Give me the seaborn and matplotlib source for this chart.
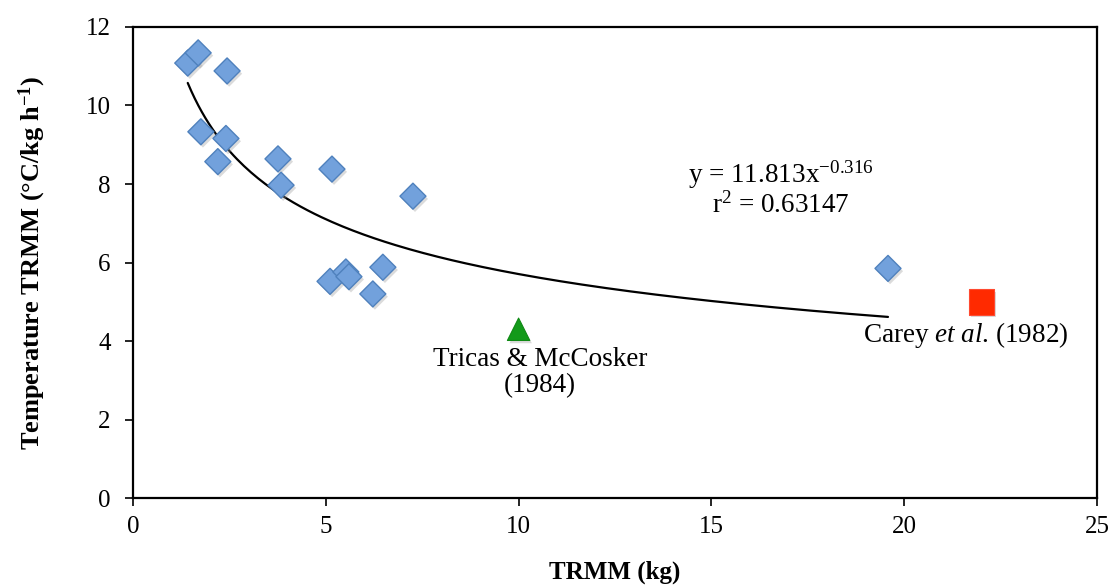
import matplotlib
matplotlib.use("Agg")
import matplotlib.pyplot as plt
import matplotlib.patheffects as pe
import seaborn as sns
import numpy as np
import pandas as pd

# data
trmm_kg = [1.42, 1.69, 2.44, 1.76, 2.41, 2.20, 3.76, 3.84, 5.16, 7.26,
           5.11, 5.52, 5.60, 6.48, 6.22, 19.58]
temp_rate = [11.08, 11.34, 10.88, 9.33, 9.16, 8.57, 8.64, 7.97, 8.38, 7.69,
             5.52, 5.76, 5.64, 5.88, 5.20, 5.85]

tricas = (10.0, 4.3)
carey = (22.0, 5.0)

fit_a = 11.813
fit_b = -0.316
fit_r2 = 0.63147

sns.set_style("white")
plt.rcParams["font.family"] = ["Liberation Serif", "DejaVu Serif"]
plt.rcParams["text.color"] = "black"
plt.rcParams["axes.labelcolor"] = "black"
plt.rcParams["mathtext.fontset"] = "custom"
plt.rcParams["mathtext.rm"] = "Liberation Serif"
plt.rcParams["mathtext.it"] = "Liberation Serif:italic"
plt.rcParams["mathtext.bf"] = "Liberation Serif:bold"

fig = plt.figure(figsize=(11.12, 5.86), dpi=100)
ax = fig.add_axes([0.1196, 0.150, 0.8669, 0.804])

df = pd.DataFrame({"x": trmm_kg, "y": temp_rate})

shadow = [pe.SimplePatchShadow(offset=(1.5, -2), shadow_rgbFace="#999999", alpha=0.35),
          pe.Normal()]

# power fit curve across the data range
xs = np.linspace(min(trmm_kg), max(trmm_kg), 200)
fit = pd.DataFrame({"x": xs, "y": fit_a * xs ** fit_b})
sns.lineplot(data=fit, x="x", y="y", color="black", linewidth=1.6, ax=ax, zorder=2)

sns.scatterplot(data=df, x="x", y="y", marker="D", s=175,
                color="#72a1dc", edgecolor="#4f81bd", linewidth=1.0,
                ax=ax, zorder=3)
ax.collections[-1].set_path_effects(shadow)

tri = ax.scatter([tricas[0]], [tricas[1]], marker="^", s=260, color="#139a1a",
                 edgecolor="#0f8a14", linewidth=0.8, zorder=3)
tri.set_path_effects(shadow)
sq = ax.scatter([carey[0]], [carey[1]], marker="s", s=340, color="#ff2a00",
                edgecolor="#ff4a30", linewidth=0.8, zorder=3)
sq.set_path_effects(shadow)

fs = 18
fa = 19.5
ax.text(16.8, 8.23, r"y = 11.813x$^{-0.316}$", ha="center", va="center", fontsize=fa)
ax.text(16.8, 7.45, r"r$^{2}$ = 0.63147", ha="center", va="center", fontsize=fa)
ax.text(10.55, 3.2, "Tricas & McCosker\n(1984)", ha="center", va="center",
        fontsize=fa, linespacing=1.05)
ax.text(21.6, 4.15, r"Carey $\it{et\ al}$. (1982)", ha="center", va="center", fontsize=fa)

ax.set_xlim(0, 25)
ax.set_ylim(0, 12)
ax.set_xticks([0, 5, 10, 15, 20, 25])
ax.set_yticks([0, 2, 4, 6, 8, 10, 12])
ax.tick_params(axis="both", left=True, bottom=True, direction="out",
               length=6, width=1.2, labelsize=fs, colors="black")
ax.tick_params(axis="y", pad=10)
ax.tick_params(axis="x", pad=7)

for side in ["left", "bottom", "top", "right"]:
    ax.spines[side].set_visible(True)
    ax.spines[side].set_color("black")
    ax.spines[side].set_linewidth(1.6)

ax.set_xlabel("TRMM (kg)", fontsize=fs, fontweight="bold", labelpad=16)
ax.set_ylabel(r"Temperature TRMM (°C/kg h$^{\mathbf{-1}}$)", fontsize=fs + 1,
              fontweight="bold", labelpad=27)

fig.savefig("out.png", dpi=100)
plt.close(fig)
